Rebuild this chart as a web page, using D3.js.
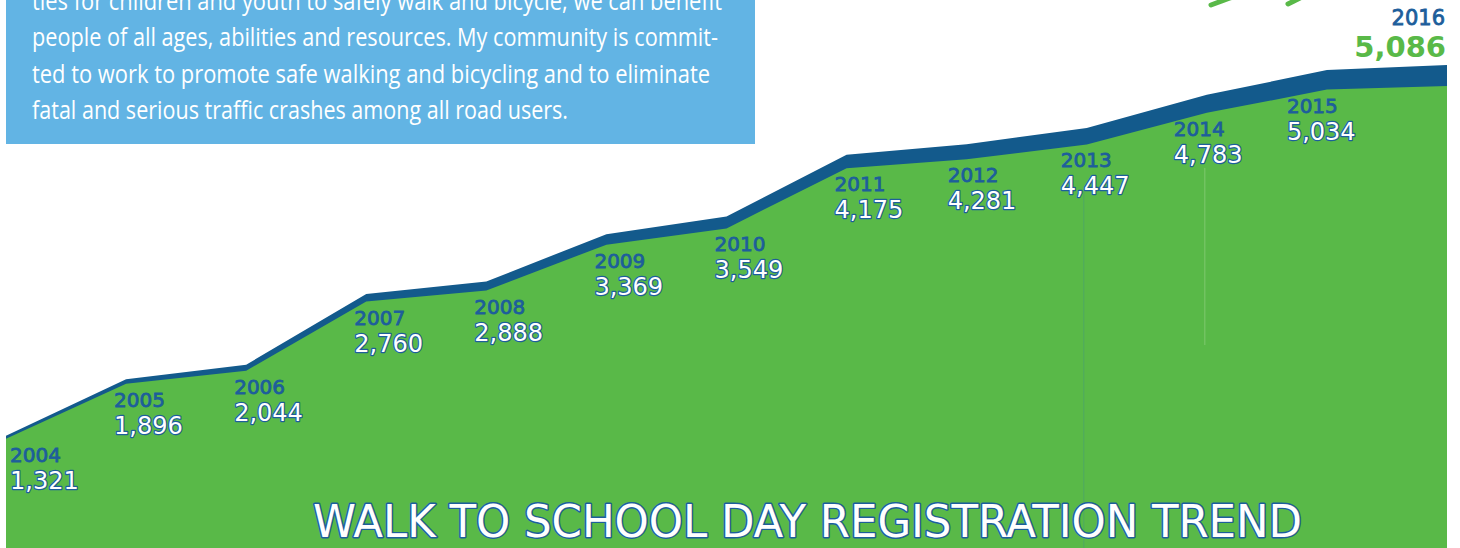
<!DOCTYPE html>
<html lang="en">
<head>
<meta charset="UTF-8">
<title>Walk to School Day Registration Trend</title>
<style>
body { margin: 0; background: #fff; }
svg { display: block; }
.intro { font-family: "Open Sans", "Noto Sans", sans-serif; font-size: 25px; fill: #fff; }
.year { font-family: "DejaVu Sans", sans-serif; font-size: 20px; fill: #1d5e9b; stroke: #1d5e9b; stroke-width: 0.8; }
.count { font-family: "DejaVu Sans", sans-serif; font-size: 24px; fill: #fff; stroke: #1d5e9b; stroke-width: 2.4; paint-order: stroke; stroke-linejoin: round; }
.title { font-family: "DejaVu Sans Condensed", "DejaVu Sans", sans-serif; font-size: 45px; fill: #fff; stroke: #1d5e9b; stroke-width: 2.8; paint-order: stroke; stroke-linejoin: round; }
</style>
</head>
<body>
<svg width="1460" height="548"></svg>
<script src="https://d3js.org/d3.v7.min.js"></script>
<script>
// registrations per year
const years = [2004, 2005, 2006, 2007, 2008, 2009, 2010, 2011, 2012, 2013, 2014, 2015, 2016];
const registrations = [1321, 1896, 2044, 2760, 2888, 3369, 3549, 4175, 4281, 4447, 4783, 5034, 5086];

const introLines = [
    'ties for children and youth to safely walk and bicycle, we can benefit',
    'people of all ages, abilities and resources. My community is commit-',
    'ted to work to promote safe walking and bicycling and to eliminate',
    'fatal and serious traffic crashes among all road users.'
];
const introWidths = [690, 686, 678, 536];

const titleText = 'WALK TO SCHOOL DAY REGISTRATION TREND';

const GREEN = '#59b948';
const NAVY = '#135a8c';
const LABEL = '#1d5e9b';

var svg = d3.select('svg');
var width = +svg.attr('width');
var height = +svg.attr('height');

var data = years.map((yr, i) => ({ year: yr, value: registrations[i] }));
var last = data[data.length - 1];
var fmt = d3.format(',');

var x = d3.scaleLinear().domain([2004, 2016]).range([6, 1447]);
var y = d3.scaleLinear().domain([0, 5086]).range([566, 65]);
// navy band gets thicker toward the right
var band = d3.scaleLinear().domain([2004, 2016]).range([3, 21]);

// intro text box (cut at the top)
var intro = svg.append('g').attr('class', 'intro-box');
intro.append('rect')
    .attr('x', 6).attr('y', 0)
    .attr('width', 749).attr('height', 144)
    .attr('fill', '#62b4e4');
intro.selectAll('text')
    .data(introLines)
    .enter().append('text')
    .attr('class', 'intro')
    .attr('x', 32)
    .attr('y', (d, i) => 9.5 + i * 36.5)
    .attr('textLength', (d, i) => introWidths[i])
    .attr('lengthAdjust', 'spacingAndGlyphs')
    .text(d => d);

// little green strokes peeking in at the top
svg.append('g')
    .attr('stroke', GREEN).attr('stroke-width', 5).attr('stroke-linecap', 'round')
    .selectAll('line')
    .data([[1211, 5, 1230, -2], [1288, 4, 1300, -2]])
    .enter().append('line')
    .attr('x1', d => d[0]).attr('y1', d => d[1])
    .attr('x2', d => d[2]).attr('y2', d => d[3]);

// areas
var navyArea = d3.area()
    .x(d => x(d.year))
    .y0(height)
    .y1(d => y(d.value));

var greenArea = d3.area()
    .x(d => x(d.year))
    .y0(height)
    .y1(d => y(d.value) + band(d.year));

var chart = svg.append('g').attr('class', 'chart');

chart.append('path')
    .datum(data)
    .attr('fill', NAVY)
    .attr('d', navyArea);

chart.append('path')
    .datum(data)
    .attr('fill', GREEN)
    .attr('d', greenArea);

// faint seams in the artwork
chart.append('line')
    .attr('x1', x(2013) - 3).attr('x2', x(2013) - 3)
    .attr('y1', y(4447) + band(2013) + 45).attr('y2', height)
    .attr('stroke', '#4aa070').attr('stroke-width', 1).attr('opacity', 0.6);
chart.append('line')
    .attr('x1', x(2014) - 2).attr('x2', x(2014) - 2)
    .attr('y1', y(4783) + band(2014) + 55).attr('y2', 345)
    .attr('stroke', '#8fd07f').attr('stroke-width', 1).attr('opacity', 0.7);

// labels under each vertex
function labelX(d) {
    return Math.max(10, x(d.year) - 12 - Math.max(0, d.year - 2011) * 7);
}
function yearBase(d) {
    return y(d.value) + band(d.year) + 23;
}

var labels = chart.selectAll('.label')
    .data(data.slice(0, -1))
    .enter().append('g')
    .attr('class', 'label');

labels.append('text')
    .attr('class', 'year')
    .attr('x', labelX)
    .attr('y', yearBase)
    .text(d => d.year);

labels.append('text')
    .attr('class', 'count')
    .attr('x', labelX)
    .attr('y', d => yearBase(d) + 27)
    .text(d => fmt(d.value));

// last year, above the line
svg.append('text')
    .attr('x', x(last.year) - 2)
    .attr('y', y(last.value) - 40)
    .attr('text-anchor', 'end')
    .attr('font-family', 'DejaVu Sans, sans-serif')
    .attr('font-size', 21)
    .attr('fill', LABEL)
    .attr('stroke', LABEL)
    .attr('stroke-width', 0.8)
    .text(last.year);

svg.append('text')
    .attr('x', x(last.year) - 1)
    .attr('y', y(last.value) - 8)
    .attr('text-anchor', 'end')
    .attr('font-family', 'DejaVu Sans, sans-serif')
    .attr('font-size', 29)
    .attr('font-weight', 'bold')
    .attr('fill', GREEN)
    .text(fmt(last.value));

// title
svg.append('text')
    .attr('class', 'title')
    .attr('x', 313)
    .attr('y', 537)
    .attr('textLength', 989)
    .attr('lengthAdjust', 'spacingAndGlyphs')
    .text(titleText);
</script>
</body>
</html>
